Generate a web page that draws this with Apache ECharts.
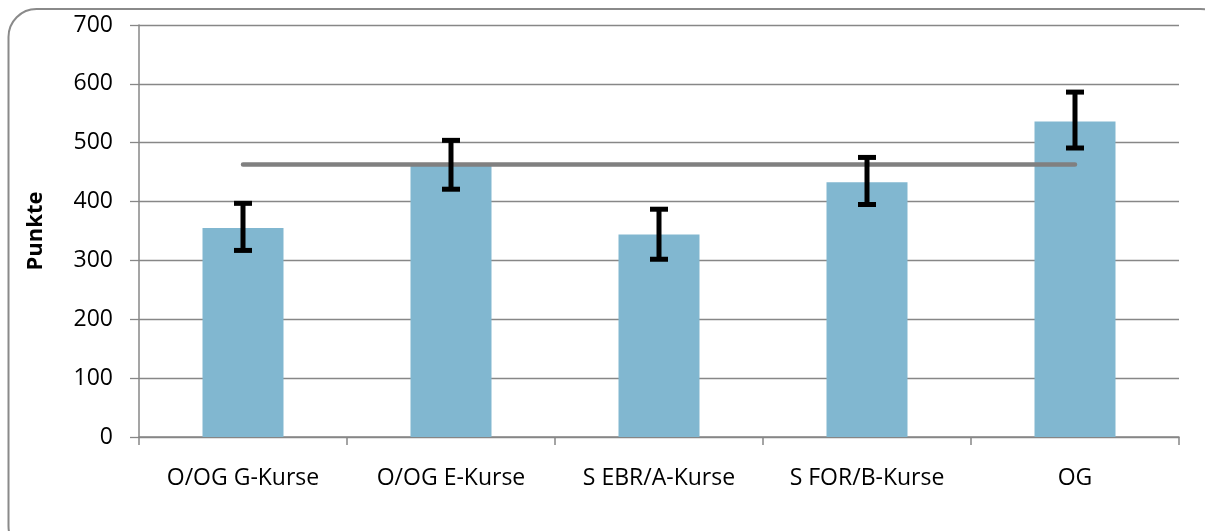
<!DOCTYPE html>
<html>
<head>
<meta charset="utf-8">
<script src="https://cdn.jsdelivr.net/npm/echarts@6/dist/echarts.min.js"></script>
<style>
html,body{margin:0;padding:0;background:#fff;}
#main{width:1205px;height:531px;}
</style>
</head>
<body>
<div id="main"></div>
<script>
var categories = ['O/OG G-Kurse', 'O/OG E-Kurse', 'S EBR/A-Kurse', 'S FOR/B-Kurse', 'OG'];
var barValues = [355, 461, 344, 433, 536];
var errLow = [317, 421, 302, 395, 491];
var errHigh = [397, 504, 387, 475, 586];
var meanValue = 463;
var meanLine = categories.map(function(){ return meanValue; });
var yTicks = [0, 100, 200, 300, 400, 500, 600, 700];

var chart = echarts.init(document.getElementById('main'));
var gridColor = '#878787';
var font = '"Open Sans", "Liberation Sans", sans-serif';

chart.setOption({
  animation: false,
  backgroundColor: '#ffffff',
  graphic: [{
    type: 'rect',
    shape: {x: 8.5, y: 9, width: 1220, height: 545, r: 28},
    style: {fill: 'none', stroke: '#8a8a8a', lineWidth: 2},
    z: -10
  }],
  grid: {left: 139, right: 26, top: 25, bottom: 94},
  xAxis: {
    type: 'category',
    data: categories,
    boundaryGap: true,
    axisLine: {show: true, lineStyle: {color: gridColor, width: 1.5}},
    axisTick: {show: true, alignWithLabel: false, length: 8, lineStyle: {color: gridColor, width: 1.5}},
    axisLabel: {color: '#000', fontFamily: font, fontSize: 23, margin: 30}
  },
  yAxis: {
    type: 'value',
    min: yTicks[0],
    max: yTicks[yTicks.length - 1],
    interval: 100,
    name: 'Punkte',
    nameLocation: 'middle',
    nameGap: 92,
    nameRotate: 90,
    nameTextStyle: {color: '#000', fontFamily: font, fontSize: 22, fontWeight: 'bold'},
    axisLine: {show: true, lineStyle: {color: gridColor, width: 1.5}},
    axisTick: {show: true, inside: false, length: 9, lineStyle: {color: gridColor, width: 1.3}},
    axisLabel: {color: '#000', fontFamily: font, fontSize: 23, margin: 26},
    splitLine: {show: true, lineStyle: {color: gridColor, width: 1.3}}
  },
  series: [
    {
      type: 'bar',
      data: barValues,
      barWidth: 81,
      itemStyle: {color: '#81B7D0'},
      z: 2
    },
    {
      type: 'line',
      data: meanLine,
      symbol: 'none',
      lineStyle: {color: '#808080', width: 4.5, cap: 'round'},
      z: 3
    },
    {
      type: 'custom',
      data: categories.map(function(c, i){ return [i, errLow[i], errHigh[i]]; }),
      renderItem: function(params, api){
        var lo = api.coord([api.value(0), api.value(1)]);
        var hi = api.coord([api.value(0), api.value(2)]);
        var hw = 9;
        var st = {stroke: '#000', lineWidth: 5, fill: 'none'};
        return {
          type: 'group',
          children: [
            {type: 'line', shape: {x1: lo[0], y1: lo[1], x2: hi[0], y2: hi[1]}, style: st},
            {type: 'line', shape: {x1: lo[0]-hw, y1: lo[1], x2: lo[0]+hw, y2: lo[1]}, style: st},
            {type: 'line', shape: {x1: hi[0]-hw, y1: hi[1], x2: hi[0]+hw, y2: hi[1]}, style: st}
          ]
        };
      },
      z: 4
    }
  ]
});
</script>
</body>
</html>
